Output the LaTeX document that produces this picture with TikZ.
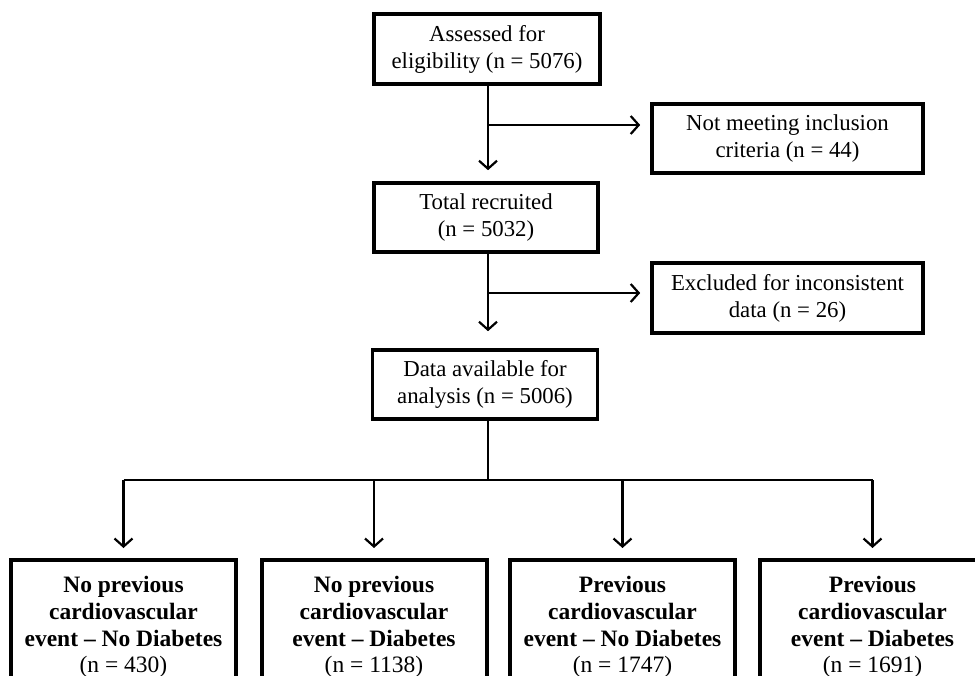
\documentclass[tikz,border=0pt]{standalone}
\usepackage{fontspec}
\setmainfont{Liberation Serif}
\usetikzlibrary{arrows.meta}
\begin{document}
\begin{tikzpicture}[x=1pt,y=-1pt,
  box/.style={draw=black,line width=3.6pt,align=center,inner sep=0pt,
    font=\fontsize{22.8}{27}\selectfont},
  bigbox/.style={draw=black,line width=4pt,align=center,inner sep=0pt,
    font=\fontsize{23.5}{26.7}\selectfont\bfseries,
    minimum width=225pt,minimum height=134pt,anchor=north},
  conn/.style={line width=2.2pt,draw=black},
  arr/.style={conn,-{Straight Barb[length=8pt,width=18pt]}}
]
\useasboundingbox (0,0) rectangle (975,676);
\clip (0,0) rectangle (975,676);
\fill[white] (0,0) rectangle (975,676);

\node[box,minimum width=226pt,minimum height=70pt] (assess) at (487,49)
  {Assessed for\\eligibility (n = 5076)};
\node[box,minimum width=271pt,minimum height=69pt] (notmeet) at (787.5,138.5)
  {Not meeting inclusion\\criteria (n = 44)};
\node[box,minimum width=224pt,minimum height=69pt] (recruit) at (486,217.5)
  {Total recruited\\(n = 5032)};
\node[box,minimum width=271pt,minimum height=70pt] (excl) at (787.5,298)
  {Excluded for inconsistent\\data (n = 26)};
\node[box,minimum width=225pt,minimum height=69pt] (avail) at (485,384.5)
  {Data available for\\analysis (n = 5006)};

\node[bigbox] (g1) at (123.5,558)
  {No previous\\cardiovascular\\event -- No Diabetes\\\mdseries(n = 430)};
\node[bigbox] (g2) at (374,558)
  {No previous\\cardiovascular\\event -- Diabetes\\\mdseries(n = 1138)};
\node[bigbox] (g3) at (622.5,558)
  {Previous\\cardiovascular\\event -- No Diabetes\\\mdseries(n = 1747)};
\node[bigbox] (g4) at (872.5,558)
  {Previous\\cardiovascular\\event -- Diabetes\\\mdseries(n = 1691)};

\coordinate (j1) at (488,125);
\coordinate (j2) at (488,293);
\coordinate (j3) at (488,480);

\draw[arr] (assess.south -| j1) -- (recruit.north -| j1) [shorten >=11pt];
\draw[arr,shorten >=10pt] (j1) -- (j1 -| notmeet.west);
\draw[arr,shorten >=17pt] (recruit.south -| j2) -- (avail.north -| j2);
\draw[arr,shorten >=10pt] (j2) -- (j2 -| excl.west);

\draw[conn] (avail.south -| j3) -- (j3);
\draw[conn] (j3 -| g1.north) -- (j3 -| g4.north);
\foreach \g in {g1,g2,g3,g4}
  \draw[arr,shorten >=10pt] (j3 -| \g.north) -- (\g.north);
\end{tikzpicture}
\end{document}
